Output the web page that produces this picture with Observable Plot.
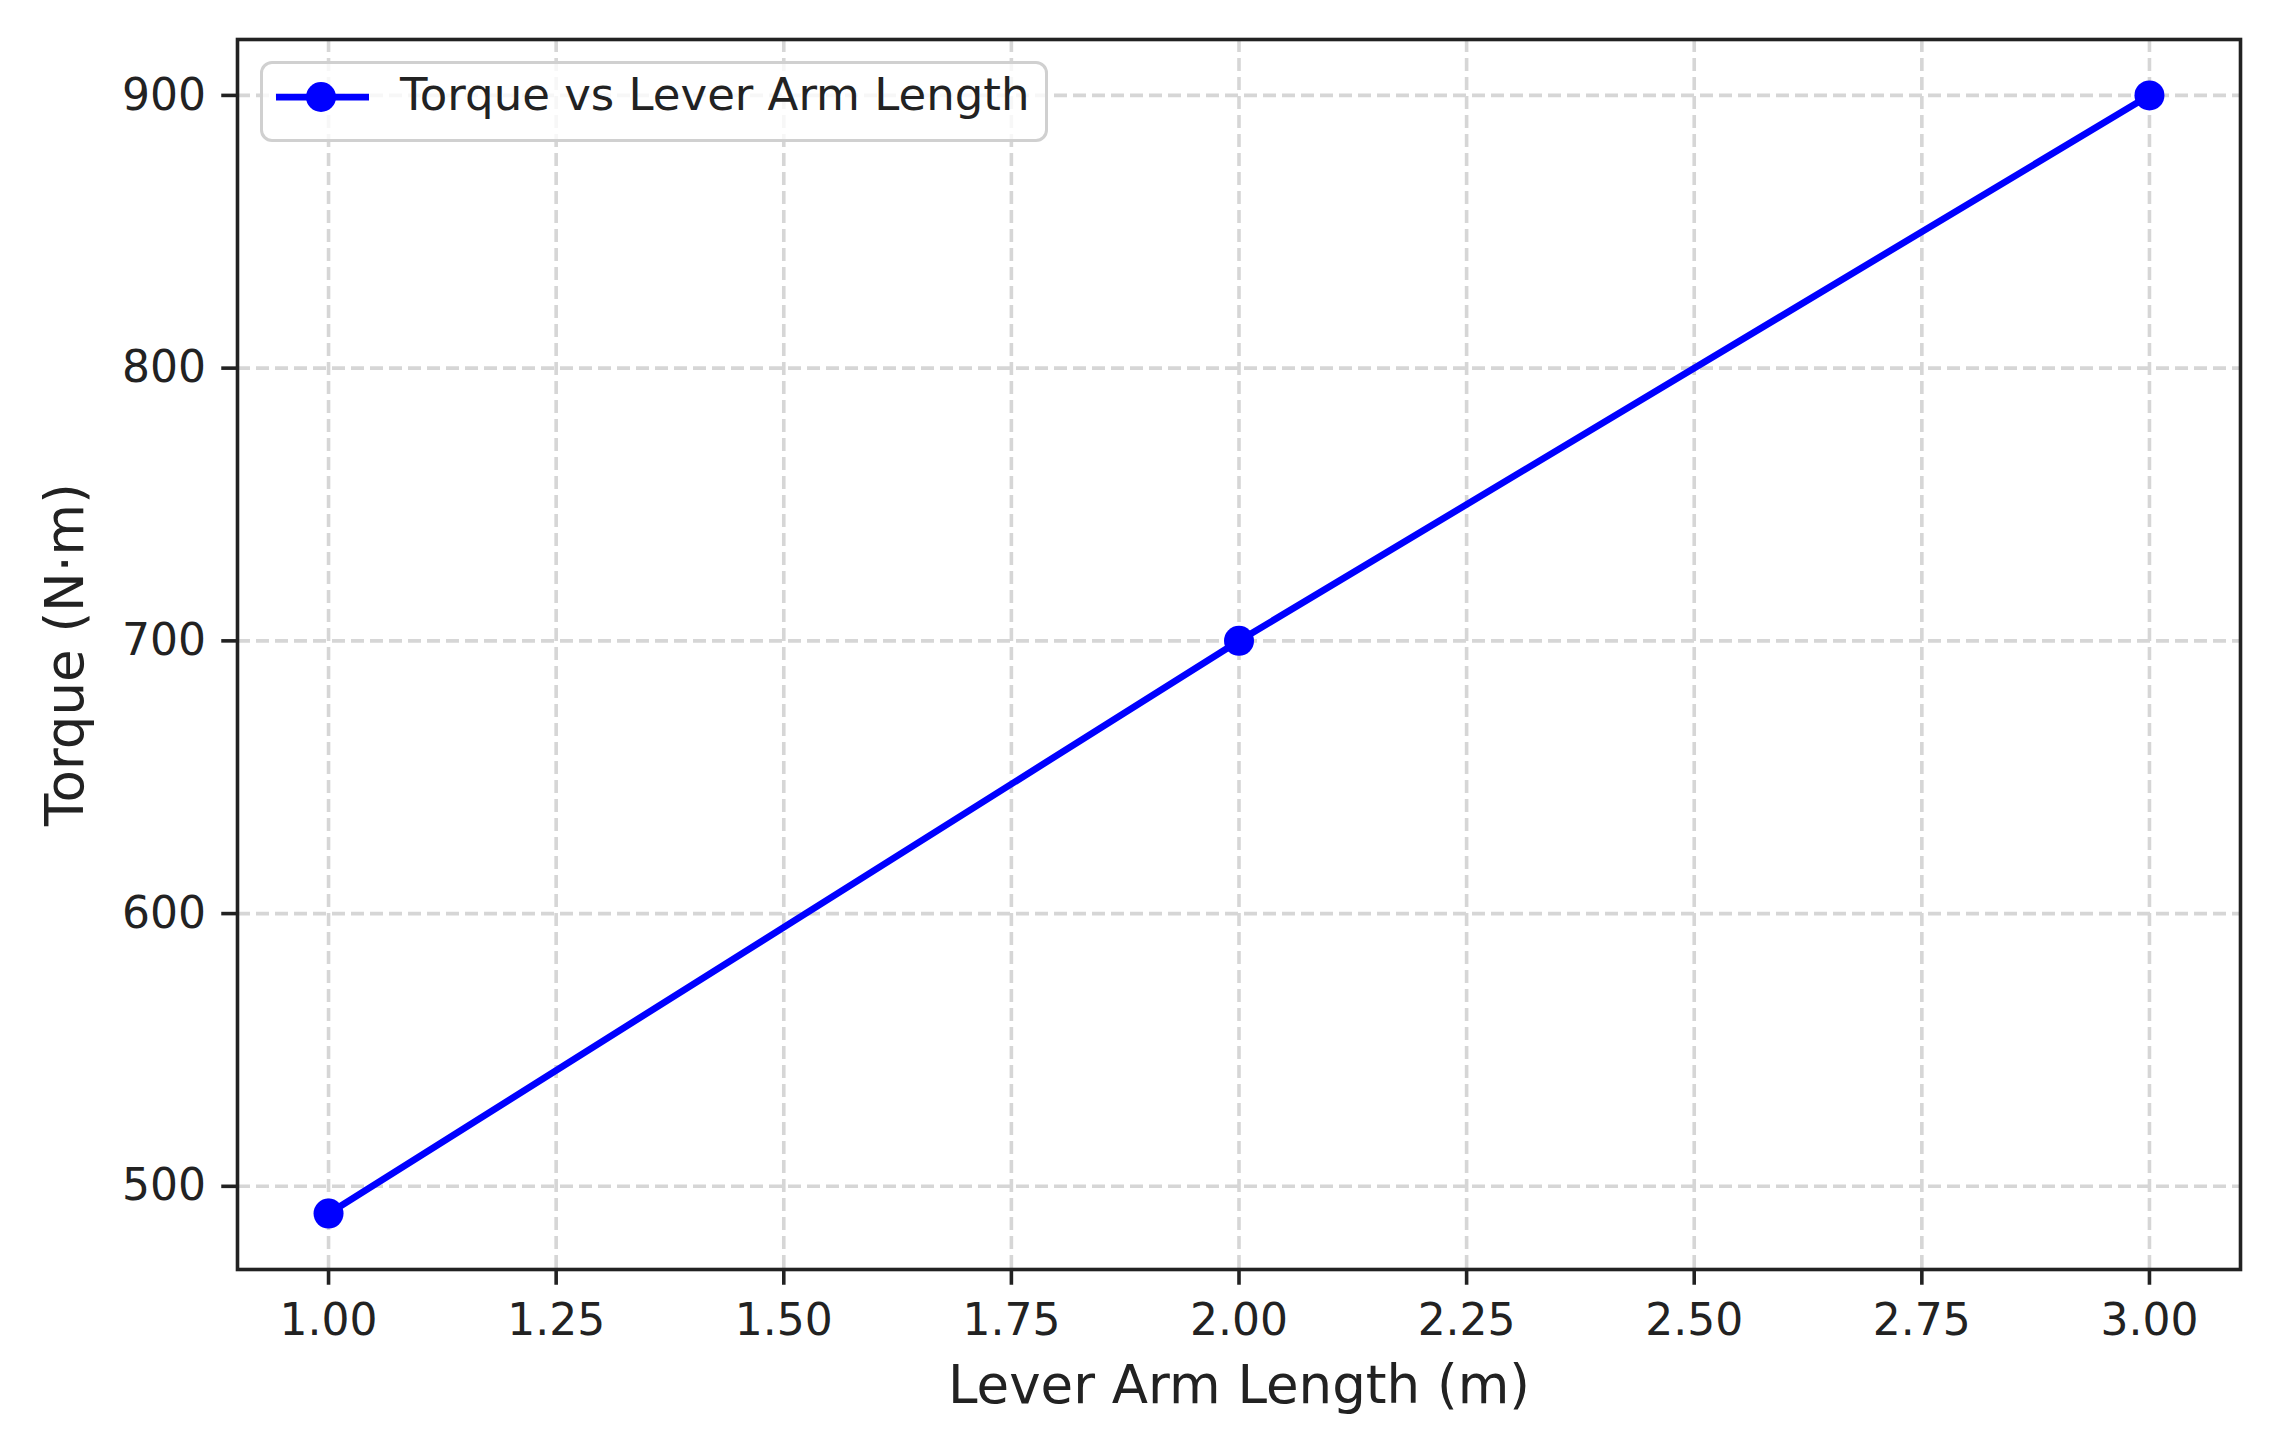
<!DOCTYPE html>
<html>
<head>
<meta charset="utf-8">
<script src="https://cdn.jsdelivr.net/npm/d3@7"></script>
<script src="https://cdn.jsdelivr.net/npm/@observablehq/plot@0.6"></script>
<style>
  html, body { margin: 0; padding: 0; background: #fff; }
  #wrap { position: relative; width: 2291px; height: 1437px; font-family: "DejaVu Sans", sans-serif; }
  #legend {
    position: absolute; left: 260px; top: 61px; width: 788px; height: 81px;
    box-sizing: border-box; border: 3px solid #d0d0d0; border-radius: 12px;
    background: rgba(255,255,255,0.8);
  }
  #legend svg { position: absolute; left: 10px; top: 13px; }
  #legend span { position: absolute; left: 137px; top: 4px; font-size: 45px; line-height: 54px; color: #222; white-space: nowrap; }
</style>
</head>
<body>
<div id="wrap"></div>
<script>
// Data
const leverLength = [1.0, 2.0, 3.0];          // m
const torque = [490, 700, 900];               // N·m
const seriesName = "Torque vs Lever Arm Length";
const xTicks = [1.00, 1.25, 1.50, 1.75, 2.00, 2.25, 2.50, 2.75, 3.00];
const yTicks = [500, 600, 700, 800, 900];
const xLabel = "Lever Arm Length (m)";
const yLabel = "Torque (N·m)";

const data = leverLength.map((x, i) => ({x, y: torque[i]}));
const lineColor = "#0000ff";
const gridStyle = {stroke: "#d6d6d6", strokeOpacity: 1, strokeWidth: 3.6, strokeDasharray: "13,6"};

const chart = Plot.plot({
  width: 2291,
  height: 1437,
  marginLeft: 237,
  marginRight: 51,
  marginTop: 39,
  marginBottom: 168,
  style: {fontFamily: "DejaVu Sans, sans-serif", fontSize: "44px", color: "#222", background: "white", overflow: "visible"},
  x: {domain: [0.9, 3.1]},
  y: {domain: [469.5, 920.5]},
  marks: [
    Plot.gridX(xTicks, gridStyle),
    Plot.gridY(yTicks, gridStyle),
    Plot.frame({stroke: "#222", strokeWidth: 3.6}),
    Plot.axisX(xTicks, {tickFormat: d3.format(".2f"), tickSize: 15.75, tickPadding: 18, strokeWidth: 3.6, label: null, fontSize: 44}),
    Plot.axisY(yTicks, {tickSize: 15.75, tickPadding: 15.75, strokeWidth: 3.6, label: null, fontSize: 44}),
    Plot.line(data, {x: "x", y: "y", stroke: lineColor, strokeWidth: 6.75}),
    Plot.dot(data, {x: "x", y: "y", r: 15, fill: lineColor, stroke: "none"}),
    Plot.text([xLabel], {frameAnchor: "bottom", lineAnchor: "top", dy: 96, fontSize: 53, fill: "#222"}),
    Plot.text([yLabel], {frameAnchor: "left", textAnchor: "middle", lineAnchor: "bottom", rotate: -90, dx: -155, fontSize: 53, fill: "#222"})
  ]
});

const wrap = document.getElementById("wrap");
wrap.appendChild(chart);

// Legend (inside the axes, upper-left)
const legend = document.createElement("div");
legend.id = "legend";
legend.innerHTML = `<svg width="100" height="40" viewBox="0 0 100 40">
  <line x1="3" x2="96" y1="20" y2="20" stroke="${lineColor}" stroke-width="6.75"/>
  <circle cx="48" cy="20" r="15" fill="${lineColor}"/>
</svg><span>${seriesName}</span>`;
wrap.appendChild(legend);
</script>
</body>
</html>
